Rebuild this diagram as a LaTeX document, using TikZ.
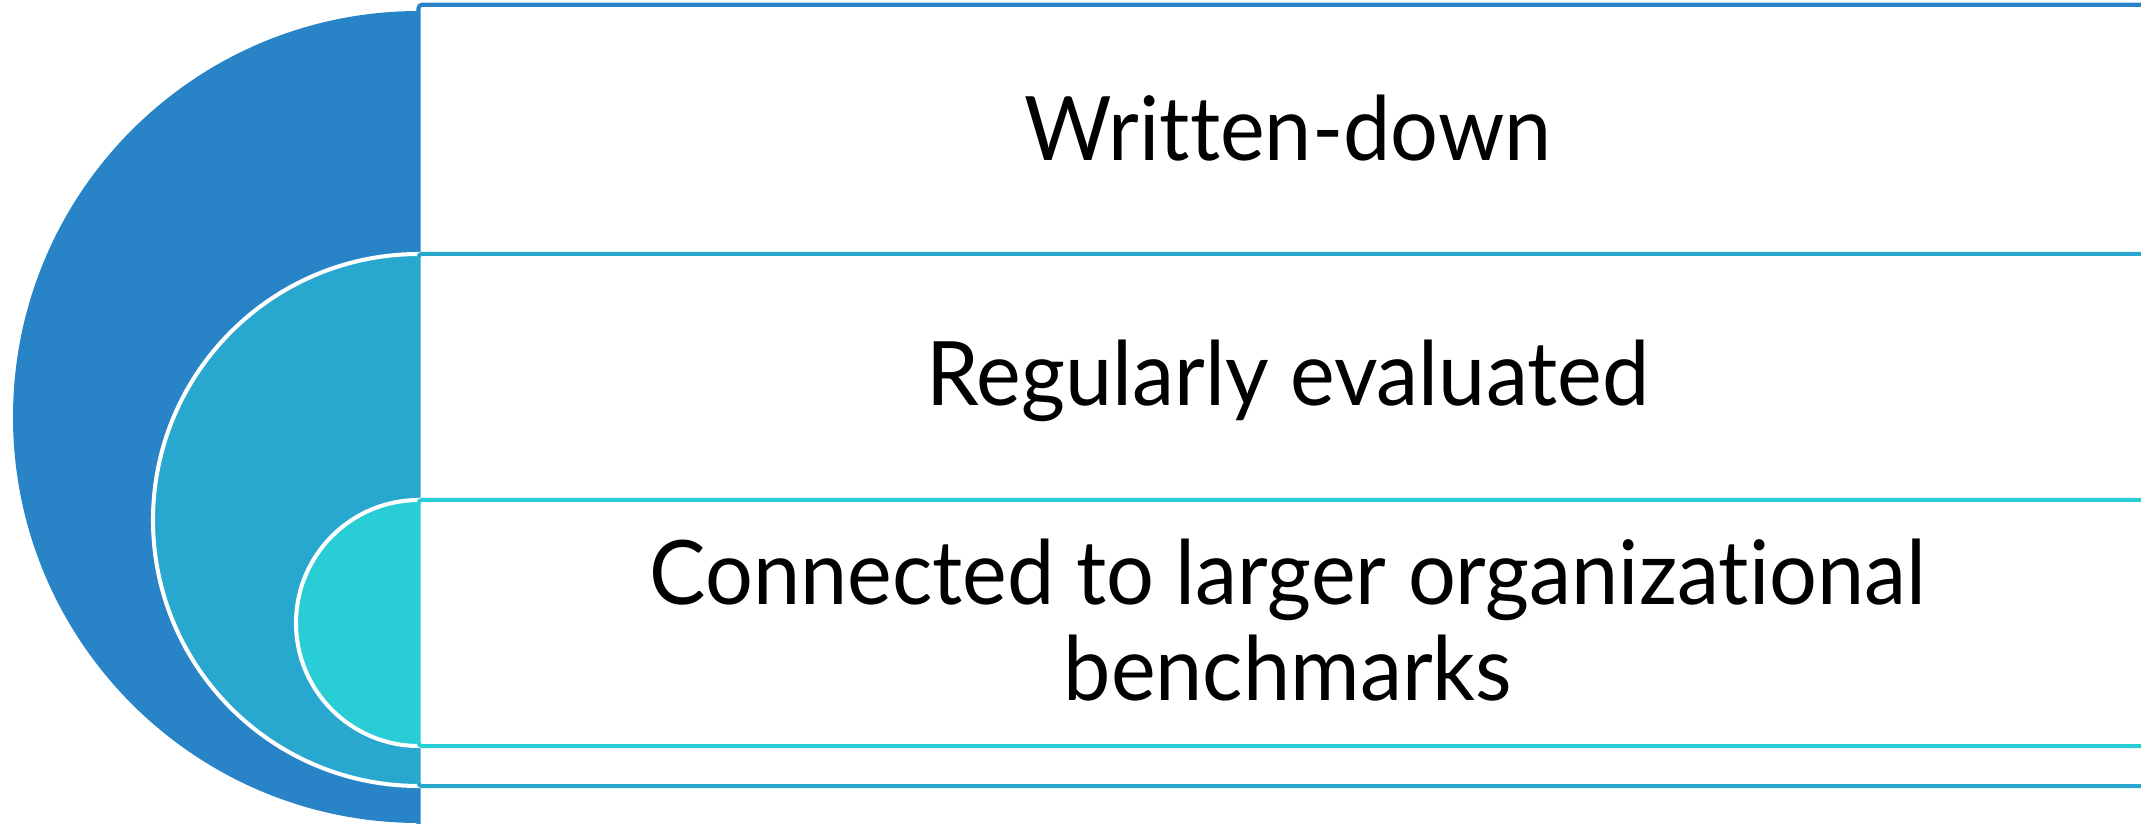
\documentclass[tikz,border=0pt]{standalone}
\usepackage{fontspec}
\setmainfont{Lato}[Ligatures=NoCommon, FakeStretch=0.95]
\definecolor{ringA}{RGB}{40,132,198}
\definecolor{ringB}{RGB}{41,168,207}
\definecolor{ringC}{RGB}{41,205,214}
\begin{document}
\begin{tikzpicture}[x=0.01cm,y=0.01cm,
  band/.style={draw=#1, fill=white, line width=1.15pt, rounded corners=1pt,
               inner sep=0pt, outer sep=0pt},
  label/.style={font=\fontsize{25.3}{27.5}\selectfont, align=center, text=black, inner sep=0pt}]
  \clip (0,0) rectangle (2141,823);
  \useasboundingbox (0,0) rectangle (2141,823);

  % outer half disc and its band
  \fill[ringA] (419,812) arc[start angle=90, end angle=270, radius=406] -- cycle;
  \node[band=ringA, minimum width=17.38cm, minimum height=8.30cm] (bandA) at (1288,403) {};

  % middle half disc and its band
  \filldraw[fill=ringB, draw=white, line width=1.15pt] (419,569) arc[start angle=90, end angle=270, radius=266] -- cycle;
  \node[band=ringB, minimum width=17.38cm, minimum height=5.32cm] (bandB) at (1288,303) {};

  % inner half disc and its band
  \filldraw[fill=ringC, draw=white, line width=1.15pt] (419,323) arc[start angle=90, end angle=270, radius=123] -- cycle;
  \node[band=ringC, minimum width=17.38cm, minimum height=2.46cm] (bandC) at (1288,200) {};

  % texts
  \node[label, anchor=base] (tA) at (1288,663) {Written-down};
  \node[label, anchor=base] (tB) at (1288,418) {Regularly evaluated};
  \node[label, anchor=center] (tC) at (1288,203) {Connected to larger organizational\\benchmarks};
\end{tikzpicture}
\end{document}
